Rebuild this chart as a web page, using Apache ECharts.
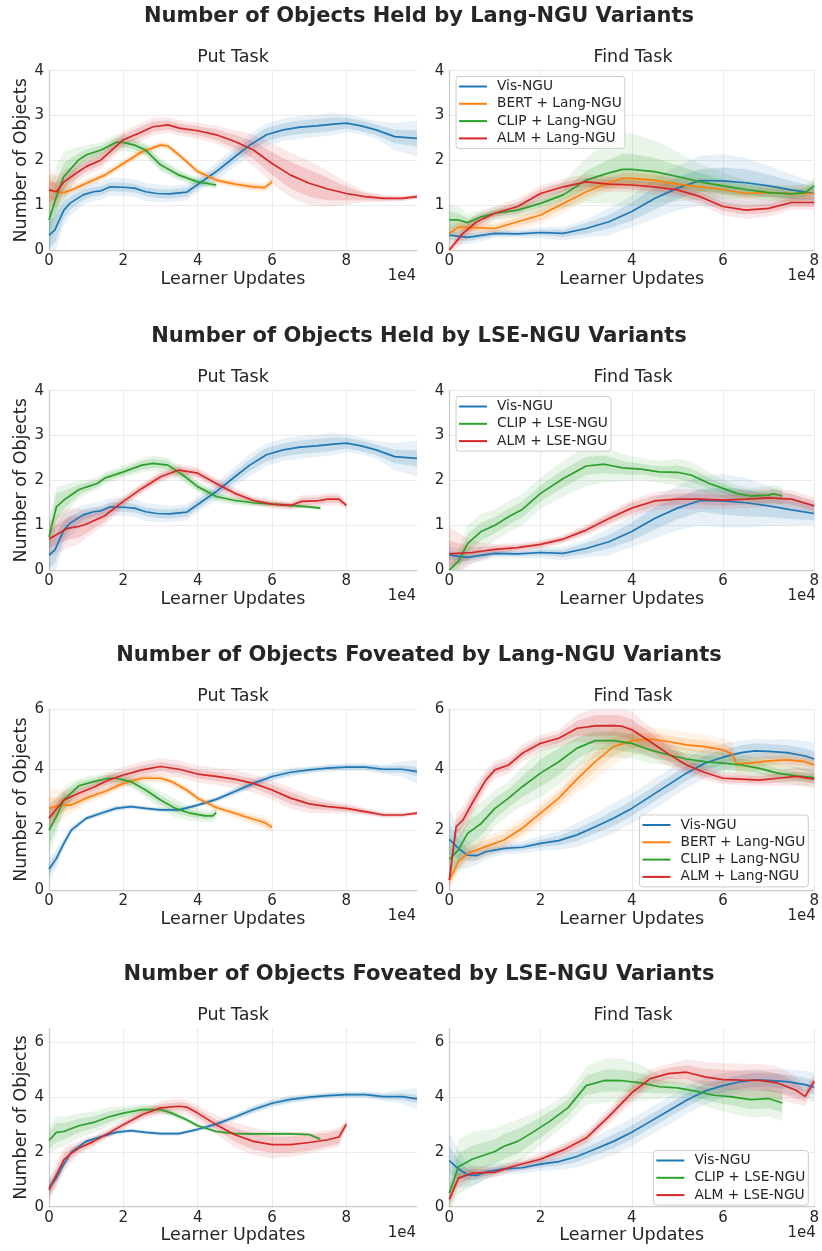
<!DOCTYPE html>
<html><head><meta charset="utf-8">
<script src="https://cdn.jsdelivr.net/npm/echarts@6/dist/echarts.min.js"></script>
<style>html,body{margin:0;padding:0;background:#fff}#c{width:822px;height:1251px}</style>
</head><body><div id="c"></div>
<script>
// ---------- titles / labels ----------
const ROW_TITLES = [
  'Number of Objects Held by Lang-NGU Variants',
  'Number of Objects Held by LSE-NGU Variants',
  'Number of Objects Foveated by Lang-NGU Variants',
  'Number of Objects Foveated by LSE-NGU Variants'
];
const COL_TITLES = ['Put Task', 'Find Task'];
const X_NAME = 'Learner Updates';
const Y_NAME = 'Number of Objects';
const X_OFFSET_TEXT = '1e4';
const LEGEND_LANG = ['Vis-NGU', 'BERT + Lang-NGU', 'CLIP + Lang-NGU', 'ALM + Lang-NGU'];
const LEGEND_LSE = ['Vis-NGU', 'CLIP + LSE-NGU', 'ALM + LSE-NGU'];

// ---------- Held, Put task ----------
const PUT_HELD_VIS_X = [0, 0.16, 0.4, 0.56, 0.92, 1.2, 1.4, 1.65, 2.0, 2.3, 2.6, 2.9, 3.25, 3.7, 4.05, 4.5, 5.0, 5.4, 5.85, 6.3, 6.75, 7.2, 7.65, 8.0, 8.4, 8.8, 9.3, 9.9];
const PUT_HELD_VIS_Y = [0.33, 0.45, 0.89, 1.04, 1.23, 1.30, 1.32, 1.41, 1.40, 1.38, 1.30, 1.26, 1.25, 1.29, 1.49, 1.75, 2.08, 2.34, 2.57, 2.68, 2.74, 2.77, 2.81, 2.83, 2.77, 2.68, 2.53, 2.49];
const PUT_HELD_VIS_SD1 = [0.3, 0.3, 0.2, 0.15, 0.12, 0.1, 0.1, 0.1, 0.1, 0.1, 0.1, 0.1, 0.1, 0.1, 0.1, 0.1, 0.12, 0.13, 0.15, 0.15, 0.15, 0.15, 0.15, 0.12, 0.12, 0.12, 0.15, 0.18];
const PUT_HELD_VIS_SD2 = [0.55, 0.5, 0.35, 0.28, 0.22, 0.2, 0.2, 0.2, 0.2, 0.2, 0.2, 0.2, 0.18, 0.18, 0.18, 0.2, 0.22, 0.25, 0.25, 0.25, 0.25, 0.25, 0.25, 0.2, 0.18, 0.2, 0.3, 0.4];

const PUT_HELD_BERT_X = [0, 0.2, 0.4, 0.6, 1.0, 1.5, 2.0, 2.5, 3.0, 3.2, 3.5, 4.0, 4.5, 5.0, 5.5, 5.8, 6.0];
const PUT_HELD_BERT_Y = [1.34, 1.30, 1.28, 1.34, 1.49, 1.67, 1.93, 2.19, 2.34, 2.32, 2.12, 1.75, 1.56, 1.47, 1.41, 1.39, 1.52];
const PUT_HELD_BERT_SD1 = [0.3, 0.15, 0.08, 0.06, 0.06, 0.06, 0.06, 0.06, 0.05, 0.05, 0.05, 0.05, 0.05, 0.05, 0.06, 0.06, 0.05];
const PUT_HELD_BERT_SD2 = [0.55, 0.3, 0.15, 0.1, 0.1, 0.1, 0.1, 0.1, 0.08, 0.08, 0.08, 0.08, 0.08, 0.08, 0.1, 0.1, 0.08];

const PUT_HELD_CLIP_X = [0, 0.2, 0.4, 0.8, 1.0, 1.4, 1.8, 2.0, 2.3, 2.6, 3.0, 3.5, 4.0, 4.5];
const PUT_HELD_CLIP_Y = [0.67, 1.19, 1.64, 2.01, 2.12, 2.23, 2.40, 2.40, 2.34, 2.23, 1.90, 1.67, 1.52, 1.45];
const PUT_HELD_CLIP_SD1 = [0.3, 0.35, 0.3, 0.15, 0.12, 0.1, 0.1, 0.1, 0.1, 0.1, 0.1, 0.08, 0.06, 0.05];
const PUT_HELD_CLIP_SD2 = [0.6, 0.7, 0.55, 0.3, 0.22, 0.18, 0.18, 0.18, 0.17, 0.15, 0.15, 0.12, 0.1, 0.08];

const PUT_HELD_ALM_X = [0, 0.2, 0.4, 0.8, 1.0, 1.4, 1.8, 2.0, 2.4, 2.8, 3.2, 3.5, 4.0, 4.5, 5.0, 5.5, 6.0, 6.5, 7.0, 7.5, 8.0, 8.5, 9.0, 9.5, 9.9];
const PUT_HELD_ALM_Y = [1.34, 1.30, 1.52, 1.75, 1.86, 2.01, 2.31, 2.46, 2.60, 2.75, 2.79, 2.72, 2.66, 2.57, 2.42, 2.23, 1.93, 1.67, 1.49, 1.36, 1.26, 1.19, 1.15, 1.15, 1.19];
const PUT_HELD_ALM_SD1 = [0.2, 0.2, 0.15, 0.12, 0.12, 0.12, 0.12, 0.12, 0.12, 0.12, 0.1, 0.1, 0.1, 0.12, 0.15, 0.2, 0.25, 0.3, 0.3, 0.25, 0.15, 0.08, 0.05, 0.04, 0.04];
const PUT_HELD_ALM_SD2 = [0.35, 0.35, 0.25, 0.2, 0.2, 0.2, 0.2, 0.2, 0.2, 0.2, 0.17, 0.17, 0.18, 0.2, 0.25, 0.35, 0.45, 0.5, 0.5, 0.4, 0.25, 0.12, 0.08, 0.06, 0.06];

const PUT_HELD_LSE_CLIP_X = [0, 0.2, 0.4, 0.8, 1.0, 1.3, 1.5, 2.0, 2.5, 2.8, 3.2, 3.6, 4.0, 4.5, 5.0, 5.5, 6.0, 6.5, 7.0, 7.3];
const PUT_HELD_LSE_CLIP_Y = [0.74, 1.41, 1.56, 1.79, 1.85, 1.93, 2.05, 2.19, 2.34, 2.38, 2.34, 2.12, 1.86, 1.64, 1.55, 1.50, 1.47, 1.44, 1.41, 1.38];
const PUT_HELD_LSE_CLIP_SD1 = [0.2, 0.3, 0.2, 0.12, 0.1, 0.08, 0.08, 0.08, 0.1, 0.1, 0.1, 0.1, 0.08, 0.07, 0.06, 0.05, 0.04, 0.04, 0.03, 0.03];
const PUT_HELD_LSE_CLIP_SD2 = [0.4, 0.45, 0.35, 0.2, 0.16, 0.14, 0.14, 0.14, 0.16, 0.17, 0.17, 0.15, 0.12, 0.12, 0.1, 0.08, 0.06, 0.05, 0.05, 0.05];

const PUT_HELD_LSE_ALM_X = [0, 0.5, 0.8, 1.0, 1.5, 2.0, 2.5, 3.0, 3.5, 4.0, 4.5, 5.0, 5.5, 6.0, 6.5, 6.8, 7.2, 7.5, 7.8, 8.0];
const PUT_HELD_LSE_ALM_Y = [0.69, 0.93, 0.97, 1.02, 1.21, 1.53, 1.82, 2.08, 2.23, 2.16, 1.93, 1.71, 1.55, 1.47, 1.44, 1.53, 1.54, 1.58, 1.58, 1.44];
const PUT_HELD_LSE_ALM_SD1 = [0.2, 0.25, 0.25, 0.2, 0.12, 0.08, 0.08, 0.08, 0.08, 0.08, 0.08, 0.07, 0.06, 0.06, 0.06, 0.08, 0.08, 0.08, 0.08, 0.05];
const PUT_HELD_LSE_ALM_SD2 = [0.4, 0.45, 0.4, 0.3, 0.2, 0.14, 0.12, 0.13, 0.14, 0.14, 0.13, 0.12, 0.1, 0.1, 0.1, 0.14, 0.14, 0.14, 0.14, 0.08];

// ---------- Held, Find task ----------
const FIND_HELD_VIS_X = [0, 0.4, 1.0, 1.5, 2.0, 2.5, 3.0, 3.5, 4.0, 4.5, 5.0, 5.5, 6.0, 6.5, 7.0, 7.5, 8.0];
const FIND_HELD_VIS_Y = [0.33, 0.28, 0.37, 0.36, 0.39, 0.37, 0.48, 0.63, 0.86, 1.15, 1.38, 1.55, 1.54, 1.50, 1.43, 1.34, 1.26];
const FIND_HELD_VIS_SD1 = [0.1, 0.08, 0.06, 0.05, 0.06, 0.08, 0.12, 0.15, 0.2, 0.25, 0.25, 0.25, 0.3, 0.3, 0.25, 0.2, 0.15];
const FIND_HELD_VIS_SD2 = [0.2, 0.15, 0.1, 0.1, 0.12, 0.15, 0.2, 0.3, 0.35, 0.45, 0.5, 0.55, 0.6, 0.55, 0.45, 0.35, 0.25];

const FIND_HELD_BERT_X = [0, 0.2, 0.5, 1.0, 1.5, 2.0, 2.5, 3.0, 3.5, 3.8, 4.0, 4.5, 5.0, 5.5, 6.0, 6.5, 7.0, 7.5, 8.0];
const FIND_HELD_BERT_Y = [0.37, 0.51, 0.50, 0.48, 0.63, 0.78, 1.04, 1.30, 1.50, 1.60, 1.60, 1.56, 1.47, 1.41, 1.35, 1.26, 1.28, 1.26, 1.26];
const FIND_HELD_BERT_SD1 = [0.1, 0.1, 0.08, 0.08, 0.1, 0.12, 0.12, 0.12, 0.12, 0.12, 0.12, 0.12, 0.1, 0.1, 0.1, 0.1, 0.1, 0.1, 0.12];
const FIND_HELD_BERT_SD2 = [0.2, 0.18, 0.15, 0.15, 0.18, 0.2, 0.22, 0.2, 0.2, 0.2, 0.2, 0.2, 0.18, 0.18, 0.17, 0.17, 0.17, 0.18, 0.22];

const FIND_HELD_CLIP_X = [0, 0.2, 0.4, 0.7, 1.0, 1.5, 2.0, 2.5, 3.0, 3.5, 3.8, 4.0, 4.5, 5.0, 5.5, 6.0, 6.5, 7.0, 7.5, 7.8, 8.0];
const FIND_HELD_CLIP_Y = [0.67, 0.67, 0.61, 0.74, 0.82, 0.89, 1.04, 1.23, 1.56, 1.72, 1.80, 1.80, 1.75, 1.64, 1.52, 1.43, 1.35, 1.28, 1.25, 1.28, 1.43];
const FIND_HELD_CLIP_SD1 = [0.2, 0.15, 0.1, 0.08, 0.08, 0.08, 0.1, 0.12, 0.2, 0.3, 0.35, 0.35, 0.3, 0.25, 0.2, 0.15, 0.12, 0.1, 0.1, 0.1, 0.1];
const FIND_HELD_CLIP_SD2 = [0.35, 0.3, 0.2, 0.15, 0.15, 0.15, 0.2, 0.3, 0.5, 0.7, 0.8, 0.8, 0.7, 0.55, 0.4, 0.3, 0.2, 0.18, 0.18, 0.18, 0.18];

const FIND_HELD_ALM_X = [0, 0.3, 0.6, 1.0, 1.5, 2.0, 2.5, 3.0, 3.5, 4.0, 4.5, 5.0, 5.5, 6.0, 6.5, 7.0, 7.5, 8.0];
const FIND_HELD_ALM_Y = [0.0, 0.37, 0.63, 0.82, 0.97, 1.26, 1.41, 1.52, 1.47, 1.45, 1.41, 1.34, 1.19, 0.97, 0.89, 0.93, 1.06, 1.06];
const FIND_HELD_ALM_SD1 = [0.05, 0.1, 0.1, 0.08, 0.1, 0.1, 0.1, 0.1, 0.1, 0.1, 0.1, 0.1, 0.1, 0.1, 0.1, 0.1, 0.1, 0.1];
const FIND_HELD_ALM_SD2 = [0.1, 0.2, 0.18, 0.15, 0.18, 0.18, 0.18, 0.17, 0.17, 0.17, 0.17, 0.17, 0.18, 0.2, 0.2, 0.18, 0.17, 0.17];

const FIND_HELD_LSE_CLIP_X = [0, 0.2, 0.4, 0.7, 1.0, 1.3, 1.6, 2.0, 2.5, 3.0, 3.4, 3.8, 4.2, 4.6, 5.0, 5.3, 5.7, 6.0, 6.3, 6.6, 7.0, 7.1, 7.3];
const FIND_HELD_LSE_CLIP_Y = [0.0, 0.19, 0.59, 0.86, 1.00, 1.19, 1.35, 1.71, 2.04, 2.32, 2.36, 2.28, 2.25, 2.19, 2.18, 2.12, 1.93, 1.82, 1.71, 1.65, 1.67, 1.70, 1.65];
const FIND_HELD_LSE_CLIP_SD1 = [0.05, 0.15, 0.2, 0.2, 0.18, 0.18, 0.18, 0.18, 0.2, 0.2, 0.2, 0.15, 0.12, 0.12, 0.15, 0.15, 0.12, 0.1, 0.1, 0.1, 0.1, 0.1, 0.1];
const FIND_HELD_LSE_CLIP_SD2 = [0.1, 0.3, 0.4, 0.4, 0.35, 0.35, 0.35, 0.35, 0.4, 0.45, 0.4, 0.3, 0.25, 0.25, 0.3, 0.3, 0.25, 0.2, 0.18, 0.18, 0.2, 0.2, 0.2];

const FIND_HELD_LSE_ALM_X = [0, 0.5, 1.0, 1.5, 2.0, 2.5, 3.0, 3.5, 4.0, 4.5, 5.0, 5.5, 6.0, 6.5, 7.0, 7.5, 8.0];
const FIND_HELD_LSE_ALM_Y = [0.36, 0.39, 0.46, 0.50, 0.57, 0.69, 0.89, 1.15, 1.38, 1.54, 1.58, 1.58, 1.56, 1.58, 1.61, 1.58, 1.43];
const FIND_HELD_LSE_ALM_SD1 = [0.3, 0.12, 0.08, 0.06, 0.06, 0.06, 0.08, 0.1, 0.12, 0.12, 0.12, 0.12, 0.12, 0.12, 0.12, 0.12, 0.12];
const FIND_HELD_LSE_ALM_SD2 = [0.6, 0.25, 0.12, 0.1, 0.1, 0.1, 0.12, 0.15, 0.18, 0.2, 0.22, 0.22, 0.2, 0.2, 0.2, 0.2, 0.2];

// ---------- Foveated, Put task ----------
const PUT_FOV_VIS_X = [0, 0.2, 0.4, 0.6, 1.0, 1.4, 1.8, 2.2, 2.6, 3.0, 3.5, 4.0, 4.5, 5.0, 5.5, 6.0, 6.5, 7.0, 7.5, 8.0, 8.5, 9.0, 9.5, 9.9];
const PUT_FOV_VIS_Y = [0.69, 1.05, 1.55, 1.99, 2.38, 2.55, 2.71, 2.77, 2.71, 2.66, 2.66, 2.82, 3.01, 3.27, 3.54, 3.77, 3.91, 3.99, 4.05, 4.08, 4.08, 4.01, 4.01, 3.93];
const PUT_FOV_VIS_SD1 = [0.2, 0.15, 0.1, 0.08, 0.06, 0.06, 0.06, 0.05, 0.05, 0.05, 0.05, 0.05, 0.06, 0.08, 0.1, 0.1, 0.1, 0.08, 0.08, 0.08, 0.08, 0.1, 0.12, 0.15];
const PUT_FOV_VIS_SD2 = [0.4, 0.3, 0.2, 0.15, 0.1, 0.1, 0.1, 0.08, 0.08, 0.08, 0.08, 0.08, 0.1, 0.12, 0.15, 0.15, 0.15, 0.12, 0.12, 0.12, 0.12, 0.15, 0.25, 0.4];

const PUT_FOV_BERT_X = [0, 0.3, 0.6, 1.0, 1.5, 2.0, 2.5, 3.0, 3.3, 3.7, 4.0, 4.5, 5.0, 5.5, 5.8, 6.0];
const PUT_FOV_BERT_Y = [2.71, 2.82, 2.82, 3.05, 3.27, 3.54, 3.71, 3.71, 3.60, 3.32, 3.05, 2.74, 2.55, 2.35, 2.24, 2.08];
const PUT_FOV_BERT_SD1 = [0.35, 0.25, 0.15, 0.12, 0.1, 0.1, 0.08, 0.08, 0.08, 0.08, 0.08, 0.08, 0.08, 0.1, 0.12, 0.1];
const PUT_FOV_BERT_SD2 = [0.7, 0.5, 0.3, 0.2, 0.18, 0.16, 0.14, 0.14, 0.14, 0.14, 0.14, 0.14, 0.15, 0.18, 0.22, 0.18];

const PUT_FOV_CLIP_X = [0, 0.2, 0.4, 0.8, 1.2, 1.6, 1.8, 2.2, 2.6, 3.0, 3.4, 3.8, 4.2, 4.4, 4.5];
const PUT_FOV_CLIP_Y = [1.99, 2.44, 2.99, 3.46, 3.60, 3.71, 3.71, 3.60, 3.32, 2.99, 2.71, 2.55, 2.46, 2.46, 2.57];
const PUT_FOV_CLIP_SD1 = [0.5, 0.4, 0.3, 0.15, 0.12, 0.12, 0.12, 0.12, 0.15, 0.15, 0.15, 0.12, 0.1, 0.1, 0.1];
const PUT_FOV_CLIP_SD2 = [0.8, 0.6, 0.45, 0.25, 0.2, 0.2, 0.2, 0.2, 0.25, 0.3, 0.3, 0.25, 0.2, 0.2, 0.18];

const PUT_FOV_ALM_X = [0, 0.4, 0.8, 1.2, 1.6, 2.0, 2.5, 3.0, 3.5, 4.0, 4.5, 5.0, 5.5, 6.0, 6.5, 7.0, 7.5, 8.0, 8.5, 9.0, 9.5, 9.9];
const PUT_FOV_ALM_Y = [2.38, 2.99, 3.21, 3.41, 3.65, 3.82, 3.99, 4.10, 4.01, 3.85, 3.77, 3.68, 3.54, 3.32, 3.05, 2.86, 2.77, 2.71, 2.60, 2.49, 2.49, 2.55];
const PUT_FOV_ALM_SD1 = [0.25, 0.15, 0.12, 0.12, 0.15, 0.15, 0.15, 0.15, 0.15, 0.15, 0.15, 0.15, 0.15, 0.18, 0.2, 0.15, 0.12, 0.1, 0.08, 0.06, 0.05, 0.05];
const PUT_FOV_ALM_SD2 = [0.45, 0.3, 0.22, 0.22, 0.25, 0.28, 0.28, 0.28, 0.28, 0.28, 0.28, 0.3, 0.3, 0.32, 0.35, 0.3, 0.22, 0.17, 0.12, 0.1, 0.08, 0.08];

const PUT_FOV_LSE_CLIP_X = [0, 0.2, 0.4, 0.8, 1.2, 1.6, 2.0, 2.5, 3.0, 3.3, 3.7, 4.0, 4.5, 5.0, 5.5, 6.0, 6.5, 7.0, 7.3];
const PUT_FOV_LSE_CLIP_Y = [2.41, 2.71, 2.74, 2.95, 3.07, 3.27, 3.41, 3.54, 3.54, 3.41, 3.17, 2.95, 2.74, 2.66, 2.65, 2.65, 2.65, 2.63, 2.46];
const PUT_FOV_LSE_CLIP_SD1 = [0.3, 0.35, 0.3, 0.25, 0.22, 0.2, 0.15, 0.12, 0.1, 0.08, 0.06, 0.05, 0.05, 0.04, 0.04, 0.04, 0.04, 0.04, 0.04];
const PUT_FOV_LSE_CLIP_SD2 = [0.5, 0.6, 0.55, 0.45, 0.4, 0.35, 0.25, 0.2, 0.15, 0.12, 0.1, 0.08, 0.08, 0.06, 0.06, 0.06, 0.06, 0.06, 0.06];

const PUT_FOV_LSE_ALM_X = [0, 0.2, 0.4, 0.6, 0.8, 1.2, 1.6, 2.0, 2.5, 3.0, 3.5, 3.7, 4.0, 4.5, 5.0, 5.5, 6.0, 6.5, 7.0, 7.5, 7.8, 8.0];
const PUT_FOV_LSE_ALM_Y = [0.61, 1.16, 1.71, 1.95, 2.13, 2.38, 2.68, 2.99, 3.35, 3.60, 3.66, 3.63, 3.41, 2.99, 2.62, 2.38, 2.26, 2.26, 2.34, 2.44, 2.54, 3.01];
const PUT_FOV_LSE_ALM_SD1 = [0.2, 0.25, 0.25, 0.2, 0.15, 0.12, 0.1, 0.1, 0.12, 0.15, 0.15, 0.15, 0.15, 0.18, 0.25, 0.3, 0.3, 0.3, 0.3, 0.25, 0.25, 0.1];
const PUT_FOV_LSE_ALM_SD2 = [0.35, 0.45, 0.45, 0.35, 0.25, 0.2, 0.18, 0.18, 0.2, 0.25, 0.28, 0.28, 0.28, 0.35, 0.45, 0.5, 0.5, 0.45, 0.4, 0.35, 0.35, 0.15];

// ---------- Foveated, Find task ----------
const FIND_FOV_VIS_X = [0, 0.2, 0.4, 0.6, 0.8, 1.2, 1.6, 2.0, 2.4, 2.8, 3.2, 3.6, 4.0, 4.4, 4.8, 5.2, 5.6, 6.0, 6.4, 6.7, 7.0, 7.4, 7.8, 8.0];
const FIND_FOV_VIS_Y = [1.68, 1.38, 1.16, 1.14, 1.27, 1.38, 1.42, 1.55, 1.64, 1.83, 2.10, 2.38, 2.71, 3.10, 3.49, 3.88, 4.21, 4.41, 4.56, 4.62, 4.60, 4.56, 4.45, 4.35];
const FIND_FOV_VIS_SD1 = [0.5, 0.35, 0.2, 0.15, 0.12, 0.1, 0.1, 0.12, 0.15, 0.2, 0.22, 0.25, 0.25, 0.25, 0.25, 0.25, 0.25, 0.25, 0.25, 0.25, 0.25, 0.25, 0.25, 0.25];
const FIND_FOV_VIS_SD2 = [1.0, 0.7, 0.45, 0.3, 0.25, 0.2, 0.2, 0.25, 0.3, 0.4, 0.45, 0.5, 0.5, 0.5, 0.5, 0.5, 0.5, 0.45, 0.4, 0.4, 0.4, 0.45, 0.5, 0.55];

const FIND_FOV_BERT_X = [0, 0.2, 0.4, 0.8, 1.2, 1.6, 2.0, 2.4, 2.8, 3.2, 3.6, 4.0, 4.4, 4.8, 5.2, 5.6, 6.0, 6.2, 6.3, 6.6, 7.0, 7.4, 7.8, 8.0];
const FIND_FOV_BERT_Y = [0.33, 0.94, 1.22, 1.44, 1.66, 2.05, 2.55, 3.05, 3.68, 4.26, 4.76, 4.95, 5.01, 4.93, 4.82, 4.76, 4.65, 4.52, 4.19, 4.21, 4.29, 4.32, 4.26, 4.15];
const FIND_FOV_BERT_SD1 = [0.2, 0.2, 0.2, 0.2, 0.2, 0.2, 0.2, 0.2, 0.25, 0.3, 0.3, 0.25, 0.2, 0.2, 0.2, 0.2, 0.2, 0.2, 0.15, 0.15, 0.15, 0.15, 0.15, 0.15];
const FIND_FOV_BERT_SD2 = [0.35, 0.35, 0.35, 0.35, 0.35, 0.35, 0.35, 0.35, 0.45, 0.6, 0.6, 0.5, 0.4, 0.4, 0.4, 0.4, 0.4, 0.4, 0.3, 0.3, 0.3, 0.3, 0.3, 0.3];

const FIND_FOV_CLIP_X = [0, 0.2, 0.4, 0.7, 1.0, 1.3, 1.6, 2.0, 2.4, 2.8, 3.2, 3.6, 4.0, 4.4, 4.8, 5.2, 5.6, 6.0, 6.4, 6.8, 7.2, 7.6, 8.0];
const FIND_FOV_CLIP_Y = [1.02, 1.33, 1.88, 2.21, 2.71, 3.05, 3.43, 3.88, 4.26, 4.71, 4.96, 4.96, 4.87, 4.65, 4.49, 4.35, 4.26, 4.21, 4.15, 4.04, 3.88, 3.79, 3.73];
const FIND_FOV_CLIP_SD1 = [0.4, 0.4, 0.4, 0.4, 0.35, 0.3, 0.35, 0.45, 0.45, 0.35, 0.3, 0.3, 0.3, 0.25, 0.2, 0.2, 0.2, 0.2, 0.2, 0.2, 0.15, 0.15, 0.15];
const FIND_FOV_CLIP_SD2 = [0.7, 0.7, 0.7, 0.7, 0.6, 0.55, 0.65, 0.8, 0.8, 0.65, 0.55, 0.55, 0.5, 0.45, 0.35, 0.35, 0.35, 0.35, 0.35, 0.35, 0.3, 0.3, 0.3];

const FIND_FOV_ALM_X = [0, 0.15, 0.3, 0.5, 0.8, 1.0, 1.3, 1.6, 2.0, 2.4, 2.8, 3.2, 3.6, 3.8, 4.0, 4.4, 4.8, 5.2, 5.6, 6.0, 6.4, 6.8, 7.2, 7.6, 8.0];
const FIND_FOV_ALM_Y = [0.33, 2.10, 2.33, 2.88, 3.65, 3.99, 4.15, 4.54, 4.87, 5.04, 5.37, 5.45, 5.46, 5.43, 5.32, 4.93, 4.52, 4.15, 3.90, 3.71, 3.68, 3.65, 3.71, 3.77, 3.68];
const FIND_FOV_ALM_SD1 = [0.2, 0.25, 0.25, 0.25, 0.2, 0.15, 0.15, 0.15, 0.15, 0.15, 0.25, 0.35, 0.35, 0.35, 0.35, 0.3, 0.25, 0.2, 0.15, 0.12, 0.12, 0.12, 0.15, 0.15, 0.15];
const FIND_FOV_ALM_SD2 = [0.4, 0.45, 0.45, 0.45, 0.35, 0.3, 0.28, 0.28, 0.28, 0.28, 0.45, 0.6, 0.6, 0.6, 0.6, 0.5, 0.4, 0.3, 0.25, 0.2, 0.2, 0.2, 0.25, 0.3, 0.3];

const FIND_FOV_LSE_CLIP_X = [0, 0.2, 0.5, 1.0, 1.2, 1.5, 1.8, 2.2, 2.6, 3.0, 3.4, 3.8, 4.2, 4.6, 5.0, 5.4, 5.8, 6.2, 6.6, 7.0, 7.3];
const FIND_FOV_LSE_CLIP_Y = [0.49, 1.46, 1.73, 2.01, 2.20, 2.38, 2.68, 3.11, 3.60, 4.41, 4.60, 4.59, 4.51, 4.37, 4.33, 4.21, 4.06, 4.00, 3.90, 3.94, 3.78];
const FIND_FOV_LSE_CLIP_SD1 = [0.3, 0.5, 0.5, 0.45, 0.45, 0.45, 0.4, 0.35, 0.3, 0.35, 0.4, 0.4, 0.35, 0.25, 0.2, 0.2, 0.25, 0.3, 0.35, 0.35, 0.35];
const FIND_FOV_LSE_CLIP_SD2 = [0.6, 1.0, 1.0, 0.85, 0.8, 0.8, 0.7, 0.6, 0.55, 0.7, 0.8, 0.8, 0.65, 0.45, 0.35, 0.4, 0.5, 0.6, 0.65, 0.65, 0.65];

const FIND_FOV_LSE_ALM_X = [0, 0.2, 0.5, 1.0, 1.5, 2.0, 2.5, 3.0, 3.5, 4.0, 4.4, 4.8, 5.2, 5.6, 6.0, 6.4, 6.8, 7.2, 7.6, 7.8, 8.0];
const FIND_FOV_LSE_ALM_Y = [0.27, 1.04, 1.22, 1.26, 1.52, 1.73, 2.07, 2.50, 3.29, 4.15, 4.66, 4.85, 4.90, 4.73, 4.63, 4.61, 4.60, 4.51, 4.24, 4.02, 4.57];
const FIND_FOV_LSE_ALM_SD1 = [0.2, 0.2, 0.15, 0.1, 0.1, 0.12, 0.15, 0.15, 0.15, 0.2, 0.2, 0.2, 0.25, 0.3, 0.35, 0.35, 0.35, 0.35, 0.3, 0.2, 0.15];
const FIND_FOV_LSE_ALM_SD2 = [0.4, 0.35, 0.25, 0.2, 0.2, 0.22, 0.25, 0.25, 0.3, 0.35, 0.35, 0.35, 0.45, 0.55, 0.6, 0.6, 0.6, 0.6, 0.5, 0.35, 0.25];

// ---------- axis settings ----------
const PUT_X_MAX = 9.9, FIND_X_MAX = 8, X_INTERVAL = 2;
const ROW_Y_MAX = [4, 4, 6, 6.5];
const ROW_Y_INTERVAL = [1, 1, 2, 2];

// ---------- styling / layout ----------
const FONT = 'DejaVu Sans';
const TXT = '#262626';
const COLORS = {
  'Vis-NGU': '#1f77b4', 'BERT + Lang-NGU': '#ff7f0e', 'CLIP + Lang-NGU': '#2ca02c',
  'ALM + Lang-NGU': '#d62728', 'CLIP + LSE-NGU': '#2ca02c', 'ALM + LSE-NGU': '#d62728'
};
const COL_LEFT = [49, 449.3], COL_W = [368, 367.4];
const ROW_TOP = [70.7, 390.7, 709.3, 1028.3], ROW_H = [179.3, 179.3, 180.7, 178.4];
const ROW_TITLE_Y = [17, 337, 656, 975];

const PANELS = [
  { row: 0, col: 0, lines: [
    ['Vis-NGU', PUT_HELD_VIS_X, PUT_HELD_VIS_Y, PUT_HELD_VIS_SD1, PUT_HELD_VIS_SD2],
    ['BERT + Lang-NGU', PUT_HELD_BERT_X, PUT_HELD_BERT_Y, PUT_HELD_BERT_SD1, PUT_HELD_BERT_SD2],
    ['CLIP + Lang-NGU', PUT_HELD_CLIP_X, PUT_HELD_CLIP_Y, PUT_HELD_CLIP_SD1, PUT_HELD_CLIP_SD2],
    ['ALM + Lang-NGU', PUT_HELD_ALM_X, PUT_HELD_ALM_Y, PUT_HELD_ALM_SD1, PUT_HELD_ALM_SD2]] },
  { row: 0, col: 1, lines: [
    ['Vis-NGU', FIND_HELD_VIS_X, FIND_HELD_VIS_Y, FIND_HELD_VIS_SD1, FIND_HELD_VIS_SD2],
    ['BERT + Lang-NGU', FIND_HELD_BERT_X, FIND_HELD_BERT_Y, FIND_HELD_BERT_SD1, FIND_HELD_BERT_SD2],
    ['CLIP + Lang-NGU', FIND_HELD_CLIP_X, FIND_HELD_CLIP_Y, FIND_HELD_CLIP_SD1, FIND_HELD_CLIP_SD2],
    ['ALM + Lang-NGU', FIND_HELD_ALM_X, FIND_HELD_ALM_Y, FIND_HELD_ALM_SD1, FIND_HELD_ALM_SD2]] },
  { row: 1, col: 0, lines: [
    ['Vis-NGU', PUT_HELD_VIS_X, PUT_HELD_VIS_Y, PUT_HELD_VIS_SD1, PUT_HELD_VIS_SD2],
    ['CLIP + LSE-NGU', PUT_HELD_LSE_CLIP_X, PUT_HELD_LSE_CLIP_Y, PUT_HELD_LSE_CLIP_SD1, PUT_HELD_LSE_CLIP_SD2],
    ['ALM + LSE-NGU', PUT_HELD_LSE_ALM_X, PUT_HELD_LSE_ALM_Y, PUT_HELD_LSE_ALM_SD1, PUT_HELD_LSE_ALM_SD2]] },
  { row: 1, col: 1, lines: [
    ['Vis-NGU', FIND_HELD_VIS_X, FIND_HELD_VIS_Y, FIND_HELD_VIS_SD1, FIND_HELD_VIS_SD2],
    ['CLIP + LSE-NGU', FIND_HELD_LSE_CLIP_X, FIND_HELD_LSE_CLIP_Y, FIND_HELD_LSE_CLIP_SD1, FIND_HELD_LSE_CLIP_SD2],
    ['ALM + LSE-NGU', FIND_HELD_LSE_ALM_X, FIND_HELD_LSE_ALM_Y, FIND_HELD_LSE_ALM_SD1, FIND_HELD_LSE_ALM_SD2]] },
  { row: 2, col: 0, lines: [
    ['Vis-NGU', PUT_FOV_VIS_X, PUT_FOV_VIS_Y, PUT_FOV_VIS_SD1, PUT_FOV_VIS_SD2],
    ['BERT + Lang-NGU', PUT_FOV_BERT_X, PUT_FOV_BERT_Y, PUT_FOV_BERT_SD1, PUT_FOV_BERT_SD2],
    ['CLIP + Lang-NGU', PUT_FOV_CLIP_X, PUT_FOV_CLIP_Y, PUT_FOV_CLIP_SD1, PUT_FOV_CLIP_SD2],
    ['ALM + Lang-NGU', PUT_FOV_ALM_X, PUT_FOV_ALM_Y, PUT_FOV_ALM_SD1, PUT_FOV_ALM_SD2]] },
  { row: 2, col: 1, lines: [
    ['Vis-NGU', FIND_FOV_VIS_X, FIND_FOV_VIS_Y, FIND_FOV_VIS_SD1, FIND_FOV_VIS_SD2],
    ['BERT + Lang-NGU', FIND_FOV_BERT_X, FIND_FOV_BERT_Y, FIND_FOV_BERT_SD1, FIND_FOV_BERT_SD2],
    ['CLIP + Lang-NGU', FIND_FOV_CLIP_X, FIND_FOV_CLIP_Y, FIND_FOV_CLIP_SD1, FIND_FOV_CLIP_SD2],
    ['ALM + Lang-NGU', FIND_FOV_ALM_X, FIND_FOV_ALM_Y, FIND_FOV_ALM_SD1, FIND_FOV_ALM_SD2]] },
  { row: 3, col: 0, lines: [
    ['Vis-NGU', PUT_FOV_VIS_X, PUT_FOV_VIS_Y, PUT_FOV_VIS_SD1, PUT_FOV_VIS_SD2],
    ['CLIP + LSE-NGU', PUT_FOV_LSE_CLIP_X, PUT_FOV_LSE_CLIP_Y, PUT_FOV_LSE_CLIP_SD1, PUT_FOV_LSE_CLIP_SD2],
    ['ALM + LSE-NGU', PUT_FOV_LSE_ALM_X, PUT_FOV_LSE_ALM_Y, PUT_FOV_LSE_ALM_SD1, PUT_FOV_LSE_ALM_SD2]] },
  { row: 3, col: 1, lines: [
    ['Vis-NGU', FIND_FOV_VIS_X, FIND_FOV_VIS_Y, FIND_FOV_VIS_SD1, FIND_FOV_VIS_SD2],
    ['CLIP + LSE-NGU', FIND_FOV_LSE_CLIP_X, FIND_FOV_LSE_CLIP_Y, FIND_FOV_LSE_CLIP_SD1, FIND_FOV_LSE_CLIP_SD2],
    ['ALM + LSE-NGU', FIND_FOV_LSE_ALM_X, FIND_FOV_LSE_ALM_Y, FIND_FOV_LSE_ALM_SD1, FIND_FOV_LSE_ALM_SD2]] }
];

function rgba(hex, a) {
  const n = parseInt(hex.slice(1), 16);
  return 'rgba(' + ((n >> 16) & 255) + ',' + ((n >> 8) & 255) + ',' + (n & 255) + ',' + a + ')';
}

function bandRenderer(xs, ys, w1, w2, color) {
  return function (params, api) {
    const n = Math.min(xs.length, ys.length);
    function poly(w, alpha) {
      const pts = [];
      for (let i = 0; i < n; i++) pts.push(api.coord([xs[i], ys[i] + (w[i] ?? w[w.length - 1])]));
      for (let i = n - 1; i >= 0; i--) pts.push(api.coord([xs[i], ys[i] - (w[i] ?? w[w.length - 1])]));
      return { type: 'polygon', shape: { points: pts }, style: { fill: rgba(color, alpha) }, silent: true };
    }
    return { type: 'group', children: [poly(w2, 0.1), poly(w1, 0.17)] };
  };
}

const grid = [], xAxis = [], yAxis = [], series = [], graphic = [];

PANELS.forEach(function (p, i) {
  const xMax = p.col === 0 ? PUT_X_MAX : FIND_X_MAX;
  const yMax = ROW_Y_MAX[p.row];
  const xOnTick = xMax % X_INTERVAL === 0;
  const yOnTick = yMax % ROW_Y_INTERVAL[p.row] === 0;
  grid.push({ left: COL_LEFT[p.col], top: ROW_TOP[p.row], width: COL_W[p.col], height: ROW_H[p.row] });
  xAxis.push({
    gridIndex: i, type: 'value', min: 0, max: xMax, interval: X_INTERVAL,
    name: X_NAME, nameLocation: 'middle', nameGap: 20,
    nameTextStyle: { fontSize: 17.5, color: TXT, fontFamily: FONT },
    axisLine: { show: true, onZero: false, lineStyle: { color: '#cccccc', width: 1.25 } },
    axisTick: { show: false },
    axisLabel: { fontSize: 15, color: TXT, fontFamily: FONT, margin: 4, showMaxLabel: xOnTick, formatter: function (v) { return String(v); } },
    splitLine: { show: true, showMaxLine: xOnTick, lineStyle: { color: '#ebebeb', width: 1 } }
  });
  yAxis.push({
    gridIndex: i, type: 'value', min: 0, max: yMax, interval: ROW_Y_INTERVAL[p.row],
    name: p.col === 0 ? Y_NAME : '', nameLocation: 'middle', nameGap: 18,
    nameTextStyle: { fontSize: 17.5, color: TXT, fontFamily: FONT },
    axisLine: { show: true, onZero: false, lineStyle: { color: '#cccccc', width: 1.25 } },
    axisTick: { show: false },
    axisLabel: { fontSize: 15, color: TXT, fontFamily: FONT, margin: 5, showMaxLabel: yOnTick },
    splitLine: { show: true, showMaxLine: yOnTick, lineStyle: { color: '#ebebeb', width: 1 } }
  });
  p.lines.forEach(function (ln) {
    const [name, xs, ys, w1, w2] = ln;
    const color = COLORS[name];
    series.push({
      type: 'custom', xAxisIndex: i, yAxisIndex: i, clip: true, silent: true, z: 1,
      renderItem: bandRenderer(xs, ys, w1, w2, color), data: [[xs[0], ys[0]]]
    });
  });
  p.lines.forEach(function (ln) {
    const [name, xs, ys] = ln;
    const color = COLORS[name];
    series.push({
      type: 'line', name: name, xAxisIndex: i, yAxisIndex: i, z: 3, clip: true,
      symbol: 'none', smooth: false,
      lineStyle: { width: 1.7, color: color }, itemStyle: { color: color },
      data: xs.map(function (x, k) { return [x, ys[k]]; })
    });
  });
  // column subtitle and offset text
  const cx = COL_LEFT[p.col] + COL_W[p.col] / 2;
  graphic.push({ type: 'text', x: cx, y: ROW_TOP[p.row] - 13, silent: true,
    style: { text: COL_TITLES[p.col], fill: TXT, font: '17.5px "' + FONT + '"', textAlign: 'center', textVerticalAlign: 'middle' } });
  graphic.push({ type: 'text', x: COL_LEFT[p.col] + COL_W[p.col] - 1, y: ROW_TOP[p.row] + ROW_H[p.row] + 26, silent: true,
    style: { text: X_OFFSET_TEXT, fill: TXT, font: '15px "' + FONT + '"', textAlign: 'right', textVerticalAlign: 'middle' } });
});

ROW_TITLES.forEach(function (t, r) {
  graphic.push({ type: 'text', x: 419, y: ROW_TITLE_Y[r], silent: true,
    style: { text: t, fill: TXT, font: 'bold 21px "' + FONT + '"', textAlign: 'center', textVerticalAlign: 'middle' } });
});

function legendCfg(data, pos) {
  return Object.assign({
    data: data, orient: 'vertical', icon: 'rect', itemWidth: 28, itemHeight: 2, itemGap: 3.3,
    padding: [3, 3, 3, 3], borderColor: '#cccccc', borderWidth: 1, borderRadius: 3,
    backgroundColor: 'rgba(255,255,255,0.8)', selectedMode: false,
    textStyle: { fontSize: 13.75, color: TXT, fontFamily: FONT, padding: [0, 0, 0, 5] }
  }, pos);
}

const legend = [
  legendCfg(LEGEND_LANG, { left: 456, top: 76.5 }),
  legendCfg(LEGEND_LSE, { left: 456, top: 396.5 }),
  legendCfg(LEGEND_LANG, { right: 13.7, top: 815 }),
  legendCfg(LEGEND_LSE, { right: 13.7, top: 1150.5 })
];

const chart = echarts.init(document.getElementById('c'), null, { renderer: 'canvas' });
chart.setOption({
  animation: false,
  backgroundColor: '#ffffff',
  textStyle: { fontFamily: FONT },
  grid: grid, xAxis: xAxis, yAxis: yAxis, legend: legend, series: series, graphic: graphic
});
</script>
</body></html>
